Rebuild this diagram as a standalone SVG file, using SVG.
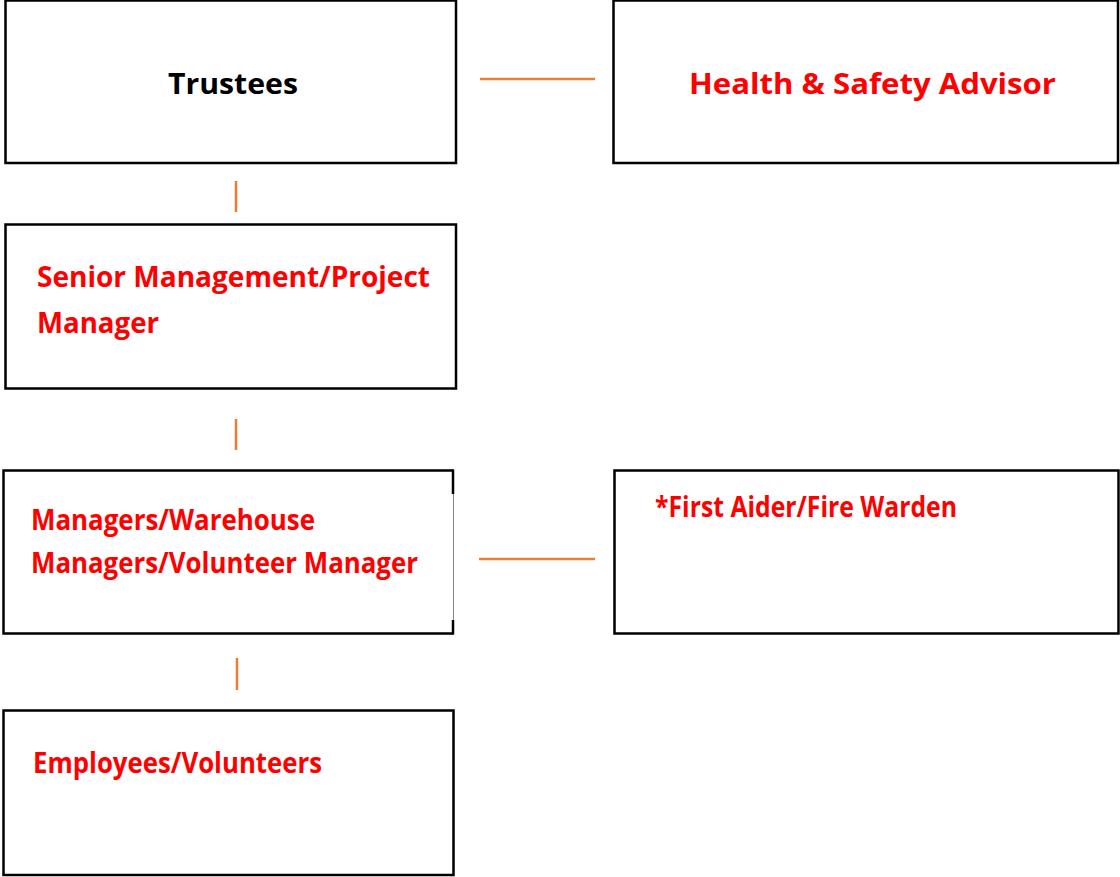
<svg xmlns="http://www.w3.org/2000/svg" width="1120" height="877" viewBox="0 0 1120 877">
<style>
.box{fill:#ffffff;stroke:#000000;stroke-width:2.5}
.conn{stroke:#ED7D31;stroke-width:2.5;fill:none}
.t{font-family:"Open Sans","Liberation Sans",sans-serif;font-weight:bold;font-size:29px;fill:#FF0000}
.k{fill:#000000}
</style>
<rect width="1120" height="877" fill="#ffffff"/>
<g id="connectors">
<line class="conn" x1="480" y1="79" x2="595" y2="79"/>
<line class="conn" x1="236" y1="181" x2="236" y2="212"/>
<line class="conn" x1="236" y1="419" x2="236" y2="450"/>
<line class="conn" x1="237" y1="658" x2="237" y2="690"/>
<line class="conn" x1="479" y1="559" x2="595" y2="559"/>
</g>
<g id="trustees">
<rect class="box" x="5.5" y="0.5" width="450.5" height="162.5"/>
<text class="t k" x="168" y="94" font-size="31" textLength="130" lengthAdjust="spacingAndGlyphs">Trustees</text>
</g>
<g id="health-safety">
<rect class="box" x="613.5" y="0.5" width="504.5" height="162.5"/>
<text class="t" x="689" y="94" font-size="31" textLength="367" lengthAdjust="spacingAndGlyphs">Health &amp; Safety Advisor</text>
</g>
<g id="senior-management">
<rect class="box" x="5.5" y="224.5" width="450.5" height="164"/>
<text class="t" x="37" y="287" textLength="393" lengthAdjust="spacingAndGlyphs">Senior Management/Project</text>
<text class="t" x="37" y="333" textLength="122" lengthAdjust="spacingAndGlyphs">Manager</text>
</g>
<g id="managers">
<path d="M453.5 470.5 H3.5 V633.5 H453.5" fill="#ffffff" stroke="#000" stroke-width="2.5"/>
<line x1="453.5" y1="471" x2="453.5" y2="633" stroke="#888" stroke-width="1"/>
<line x1="453" y1="469.5" x2="453" y2="494" stroke="#000" stroke-width="2.5"/>
<line x1="453" y1="620" x2="453" y2="634.5" stroke="#000" stroke-width="2.5"/>
<text class="t" x="31" y="530" textLength="284" lengthAdjust="spacingAndGlyphs">Managers/Warehouse</text>
<text class="t" x="31" y="573" textLength="387" lengthAdjust="spacingAndGlyphs">Managers/Volunteer Manager</text>
</g>
<g id="first-aider">
<rect class="box" x="614.5" y="470.5" width="504" height="163"/>
<text class="t" x="655" y="517" font-size="28" textLength="302" lengthAdjust="spacingAndGlyphs">*First Aider/Fire Warden</text>
</g>
<g id="employees">
<rect class="box" x="3.5" y="710.5" width="450" height="164.5"/>
<text class="t" x="33" y="773" font-size="28" textLength="289" lengthAdjust="spacingAndGlyphs">Employees/Volunteers</text>
</g>
</svg>
